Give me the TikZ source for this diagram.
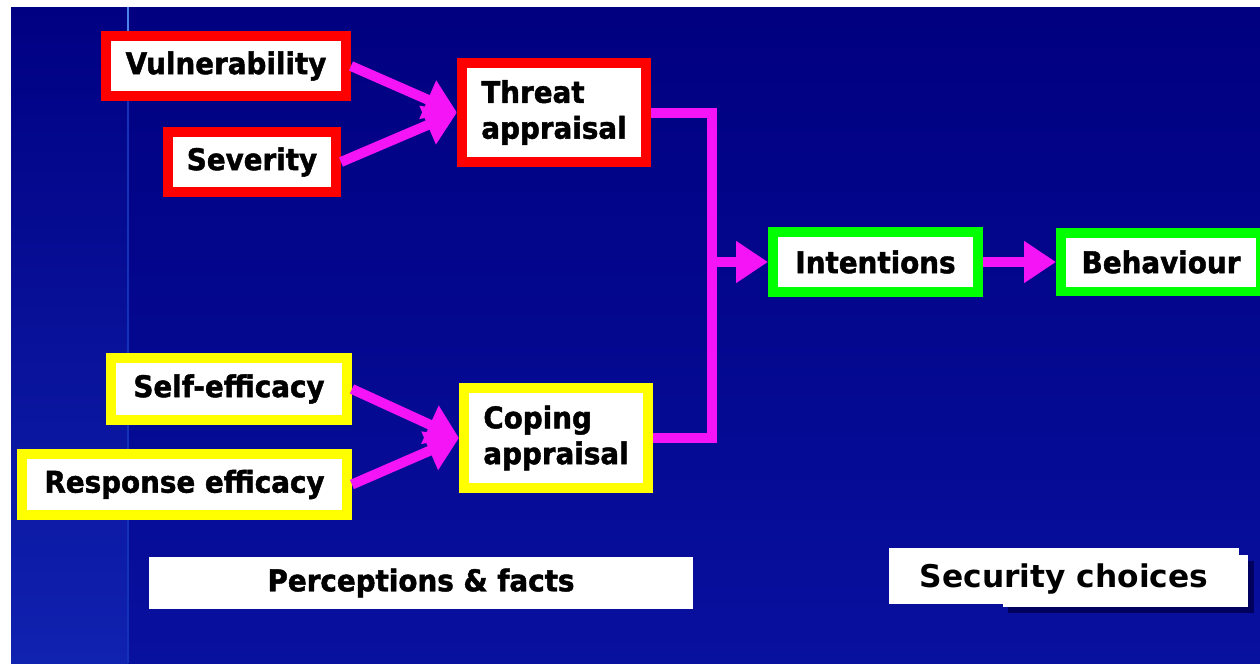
\documentclass[tikz,border=0pt]{standalone}
\usepackage{fontspec}
\setmainfont{DejaVu Sans}
\newfontfamily\boxfont[FakeStretch=0.93,FakeBold=1.5]{DejaVu Sans Bold}
\newfontfamily\choicefont{DejaVu Sans Bold}
\usetikzlibrary{arrows.meta}
\definecolor{slidetop}{RGB}{0,0,128}
\definecolor{slidebot}{RGB}{8,16,158}
\definecolor{striptop}{RGB}{0,0,130}
\definecolor{stripbot}{RGB}{16,34,176}
\definecolor{rulelight}{RGB}{80,130,235}
\definecolor{ruledim}{RGB}{20,50,185}
\definecolor{flowpink}{RGB}{245,20,245}
\definecolor{threatred}{RGB}{255,0,0}
\definecolor{copeyellow}{RGB}{255,255,0}
\definecolor{actgreen}{RGB}{0,255,0}
\definecolor{shadenavy}{RGB}{0,0,95}
\tikzset{
  factbox/.style={draw=#1, line width=0.2cm, fill=white, inner sep=0pt,
    minimum height=1.2cm, font=\boxfont\fontsize{17}{20.4}\selectfont},
  twoline/.style={align=left, minimum width=3.68cm, minimum height=1.98cm},
  labelbox/.style={fill=white, inner sep=0pt, text=black},
  link/.style={draw=flowpink, line width=0.2cm},
  flowarrow/.style={link, -{Triangle[length=0.64cm,width=0.8cm]}}
}
\begin{document}
\begin{tikzpicture}[x=0.02cm,y=-0.02cm]
                \useasboundingbox (0,0) rectangle (1260,663);
                \fill[white] (0,0) rectangle (1260,663);
                \fill[top color=slidetop, bottom color=slidebot] (11,7) rectangle (1260,663);
                \fill[top color=striptop, bottom color=stripbot] (11,7) rectangle (128,663);
                \draw[ruledim, line width=1.2pt] (128,40) -- (128,663);
                \draw[rulelight, line width=1.2pt] (128,7) -- (128,40);

                \node[factbox=threatred, minimum width=4.8cm] (vul) at (226,66) {Vulnerability};
                \node[factbox=threatred, minimum width=3.36cm] (sev) at (252,162) {Severity};
                \node[factbox=threatred, twoline] (thr) at (554,112.5) {Threat\\appraisal};
                \node[factbox=copeyellow, minimum width=4.72cm, minimum height=1.24cm] (slf) at (229,389) {Self-efficacy};
                \node[factbox=copeyellow, minimum width=6.5cm, minimum height=1.22cm] (rsp) at (184.5,484.5) {Response efficacy};
                \node[factbox=copeyellow, twoline, minimum height=2cm] (cop) at (556,438) {Coping\\appraisal};
                \node[factbox=actgreen, minimum width=4.1cm] (int) at (875.5,262) {Intentions};
                \node[factbox=actgreen, minimum width=4cm, minimum height=1.18cm] (beh) at (1161,262) {Behaviour};
                \coordinate (jn) at (712,262);

                \draw[flowarrow] (vul.east) -- (thr.west);
                \draw[flowarrow] (sev.east) -- (thr.west);
                \draw[flowarrow] (slf.east) -- (cop.west);
                \draw[flowarrow] (rsp.east) -- (cop.west);
                \draw[link] (thr.east) -| (jn) |- (cop.east);
                \draw[flowarrow] (jn) -- (int.west);
                \draw[flowarrow] (int.east) -- (beh.west);

                \node[labelbox, minimum width=10.88cm, minimum height=1.04cm,
                  font=\boxfont\fontsize{17}{20.4}\selectfont] (facts) at (421,583) {Perceptions \& facts};
                \fill[shadenavy] (1008,561) rectangle (1254,613);
                \fill[white] (1003,555) rectangle (1248,607);
                \node[labelbox, minimum width=7cm, minimum height=1.12cm, text height=15.5pt, text depth=2pt,
                  font=\choicefont\fontsize{17.8}{22}\selectfont] (choices) at (1064,576) {Security choices};
            \end{tikzpicture}
\end{document}
